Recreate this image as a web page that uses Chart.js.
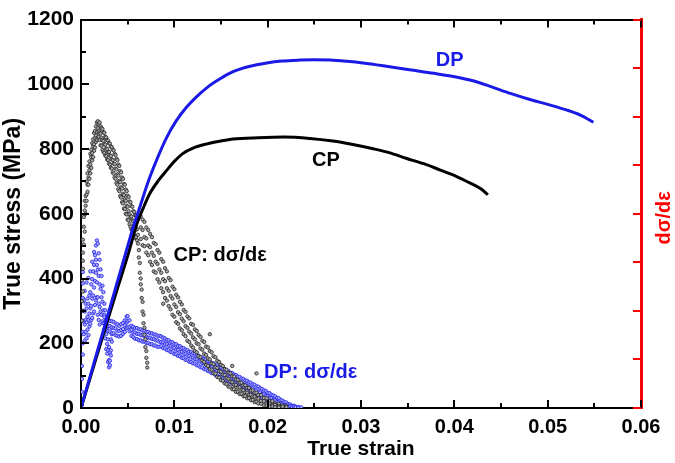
<!DOCTYPE html>
<html>
<head>
<meta charset="utf-8">
<script src="https://cdn.jsdelivr.net/npm/chart.js@4.4.0/dist/chart.umd.min.js"></script>
<style>
html,body{margin:0;padding:0;background:#fff;}
#wrap{width:675px;height:463px;}
</style>
</head>
<body>
<div id="wrap"><canvas id="c" width="675" height="463"></canvas></div>
<script>
// ---- data ----
const xTicks = [0, 0.01, 0.02, 0.03, 0.04, 0.05, 0.06];
const yTicks = [0, 200, 400, 600, 800, 1000, 1200];

// true stress-strain curves: [strain, stress MPa]
const dpCurve = [[0,0],[0.001,100],[0.002,200],[0.003,300],[0.004,400],[0.005,500],[0.0056,560],[0.006,594],[0.0068,665],[0.0074,715],[0.0083,780],[0.0092,837],[0.0102,887],[0.0113,929],[0.0124,962],[0.0135,990],[0.0149,1017],[0.0163,1039],[0.018,1055],[0.0199,1066],[0.0215,1072],[0.0235,1075],[0.025,1076],[0.0267,1075],[0.0285,1071],[0.0302,1066],[0.0327,1056],[0.0352,1045],[0.0378,1034],[0.0403,1022],[0.042,1011],[0.044,992],[0.046,972],[0.048,954],[0.05,938],[0.052,921],[0.0535,905],[0.0549,883]];

const cpCurve = [[0,0],[0.001,95],[0.002,190],[0.003,285],[0.004,378],[0.005,470],[0.0055,520],[0.006,570],[0.0067,620],[0.0074,664],[0.0083,703],[0.0092,735],[0.01,762],[0.0109,786],[0.012,803],[0.0135,816],[0.015,825],[0.0163,831],[0.019,835],[0.0217,837],[0.0245,833],[0.027,825],[0.029,815],[0.0313,801],[0.033,789],[0.0349,771],[0.0368,754],[0.0385,735],[0.0402,716],[0.0417,695],[0.0428,678],[0.0436,659]];

const cpRateRows = [[0.0001,270,330,395],[0.0002,300,360,430],[0.0002,480,455,520],[0.0003,505,560,590],[0.0004,545,610,640],[0.0005,600,655,625],[0.0006,660,700,640],[0.0007,690,725,668],
[0.0008,748,712,690],[0.0009,762,735,708],[0.001,785,752,725],[0.0011,798,775,742],[0.0012,818,788,765],[0.0013,830,808,775],[0.0014,850,815,795],[0.0015,856,835,805],[0.0016,870,842,822],[0.0017,882,852,828],[0.0018,886,865,835],[0.0019,876,855,838],
[0.002,882,850,828],[0.0021,870,848,812],[0.0022,865,835,810],[0.0023,862,828,798],[0.0024,852,825,792],[0.0025,850,815,788],[0.0026,838,814,780],[0.0027,836,802,778],[0.0028,828,800,768],[0.0029,826,790,766],[0.003,818,791,755],[0.0031,817,780,752],[0.0032,808,779,742],[0.0033,806,768,740],[0.0034,798,766,728],[0.0035,796,755,724],[0.0036,785,754,712],[0.0037,782,740,708],[0.0038,770,737,695],[0.0039,766,722,690],[0.004,752,718,676],[0.0041,748,702,670],[0.0042,732,698,655],[0.0043,728,682,650],[0.0044,712,678,636],[0.0045,708,662,632],[0.0046,692,658,616],[0.0047,690,645,615],[0.0048,675,640,600],[0.0049,670,625,598],[0.005,656,622,582],[0.0051,652,608,580],[0.0052,638,598,568],[0.0053,636,590,560],[0.0054,624,592,552],[0.0055,622,580,550],[0.0056,608,577,538],[0.0057,606,565,532],[0.0058,596,564,526],[0.0059,593,552,528],[0.006,582,552,518],
[0.0061,535,508],[0.0062,488,465],[0.0063,448,418],[0.0064,400,382],[0.0065,366,340],[0.0066,328,298],[0.0067,288,262],[0.0068,248,226],[0.0069,212,188],[0.007,176,155],[0.0071,140,125],
[0.0064,592,558,522],[0.0066,582,550,503],[0.0068,575,528,500],[0.007,558,524,480],[0.0072,550,502,472],[0.0074,538,497,452],[0.0076,528,480,442],[0.0078,510,470,422],[0.008,506,452,418],[0.0082,488,445,398],[0.0084,480,428,388],[0.0086,460,418,370],[0.0088,452,398,358,322],[0.009,432,392,340],[0.0092,422,370,332],[0.0094,402,362,315],[0.0096,395,346,305],[0.0098,375,338,288],[0.01,367,320,282],[0.0102,350,312,265],[0.0104,342,296,260],[0.0106,328,290,246],[0.0108,320,276,240],[0.011,303,268,228],[0.0112,297,253,222],[0.0114,283,248,208],[0.0116,277,236,204],[0.0118,260,230,193],[0.012,257,218,187],[0.0122,243,212,176],[0.0124,238,200,172],[0.0126,226,197,160],[0.0128,220,184,157],[0.013,208,180,146],[0.0132,204,168,142],[0.0134,190,164,133],[0.0136,187,153,130],[0.0138,228,176,150,120],[0.014,172,138,118],[0.0142,160,136,108],[0.0144,157,126,106],[0.0146,146,124,96],[0.0148,142,114,94],[0.015,133,112,86],[0.0152,130,103,84],[0.0154,120,102,76],[0.0156,118,92,74],[0.0158,108,90,66],[0.016,107,82,66],[0.0162,130,98,80,58],[0.0164,97,72,58],[0.0166,88,71,50],[0.0168,87,63,50],[0.017,78,64,43],[0.0172,78,56,44],[0.0174,70,55,36],[0.0176,70,48,37],[0.0178,62,47,30],[0.018,62,41,31],[0.0182,54,41,24],[0.0184,54,35,25],[0.0186,47,35,18],[0.0188,107,47,29,19],[0.019,40,29,14],[0.0193,40,22,13],[0.0196,31,21,8],[0.0199,30,14,8],[0.0202,22,14,4],[0.0205,21,9,5],[0.0208,14,9,2],[0.0212,13,5,2],[0.0216,8,4],[0.022,6,2]];

const dpRateRows = [[0.0001,10,50,90,130],[0.0002,165,200,235,270],[0.0002,300,340,385,420],
[0.0003,332,268,228],[0.0004,298,258,208,362],[0.0005,322,272,235],[0.0006,308,265,215,388],[0.0007,338,282,242],[0.0008,322,272,225,402],[0.0009,348,292,252],[0.001,358,308,260,422],[0.0011,382,315,272],[0.0012,398,338,278,452],[0.0013,422,348,292],[0.0014,442,372,298,482],[0.0015,472,392,318],[0.0016,502,418,332,458],[0.0017,518,442,342,388],[0.0018,508,428,342,288],[0.0019,478,408,322,272],[0.002,458,382,312,258],[0.0021,428,368,298],[0.0022,408,342,288],[0.0023,378,328,268],[0.0024,358,302,262],[0.0025,322,288],[0.0026,302,248,215],[0.0027,272,228,182],[0.0028,248,198,168],[0.0029,212,178,142],[0.003,188,148,126],[0.0031,172,146,132],[0.0032,212,178,162],[0.0033,248,228,205],
[0.0025,281,262,244],[0.0027,274,259,241],[0.0029,273,254,237],[0.0031,269,253,236],[0.0033,268,249,231],[0.0035,266,247,231],[0.0037,261,246,225],[0.0039,259,239,223],[0.0041,254,238,221],[0.0043,259,241,223],[0.0045,263,244,229],[0.0047,271,256,235],[0.0049,283,264,247],[0.005,284,269,249],[0.0052,271,251,237],[0.0054,254,241,223],[0.0056,251,234,219],[0.0058,247,233,214],[0.006,247,229,213],[0.0062,243,229,209],[0.0064,243,225,209],[0.0066,239,225,205],[0.0068,239,221,205],[0.007,235,221,201],[0.0072,235,217,201],[0.0074,231,217,197],[0.0076,231,213,197],[0.0078,227,213,193],[0.008,227,209,193],[0.0082,223,209,189],[0.0084,223,205,189],
[0.0086,221,204,191],[0.0088,217,203,185],[0.009,215,198,184],[0.0092,210,197,179],[0.0094,209,192,178],[0.0096,204,191,173],[0.0098,203,186,172],[0.01,198,185,167],[0.0102,197,180,166],[0.0104,192,179,161],[0.0106,191,174,160],[0.0108,186,173,155],[0.011,185,168,154],[0.0112,180,167,149],[0.0114,179,162,148],[0.0116,174,161,143],[0.0118,173,156,142],[0.012,169,156,138],[0.0122,168,151,137],[0.0124,163,150,132],[0.0126,162,145,131],[0.0128,157,144,126],[0.013,156,139,125],[0.0132,151,138,120],[0.0134,150,133,119],[0.0136,145,132,114],[0.0138,144,127,113],[0.014,139,126,108],[0.0142,138,121,107],[0.0144,133,120,102],[0.0146,132,115,101],[0.0148,127,114,96],[0.015,126,109,96],[0.0152,121,108,91],[0.0154,120,103,90],[0.0156,115,102,85],[0.0158,114,97,84],[0.016,109,96,79],[0.0162,108,91,78],[0.0164,103,90,73],[0.0166,102,85,72],[0.0168,97,84,67],[0.017,96,79,66],[0.0172,91,78,61],[0.0174,90,73,60],[0.0176,85,72,55],[0.0178,84,67,54],[0.018,79,66,49],[0.0182,78,61,48],[0.0184,73,60,43],[0.0186,72,55,42],[0.0188,67,54,37],[0.019,66,49,36],[0.0192,61,48,31],[0.0194,59,43,31],[0.0196,54,42,26],[0.0198,53,37,25],[0.02,47,36,23],[0.0202,46,31,18],[0.0204,41,30,18],[0.0206,39,25,13],[0.0208,36,24,13],[0.021,31,19,9],[0.0212,30,18,9],[0.0214,24,13,5],[0.0216,23,13,6],[0.0218,18,9,3],[0.022,17,9,4],[0.0222,12,5,2],[0.0224,11,6],[0.0226,7,3],[0.0228,7,4],[0.023,4,2],[0.0233,3,1],[0.0236,2]];

const labels = [
  {text: 'DP', x: 0.0395, y: 1075, color: '#1a1ae6'},
  {text: 'CP', x: 0.02625, y: 765, color: '#000'},
  {text: 'CP: d\u03c3/d\u03b5', x: 0.0149, y: 472, color: '#000'},
  {text: 'DP: d\u03c3/d\u03b5', x: 0.0246, y: 110, color: '#1a1ae6'}
];
// ---- end data ----

const toPts = a => a.map(p => ({x: p[0], y: p[1]}));
const rowsToPts = rows => { const out = []; rows.forEach(r => { for (let i = 1; i < r.length; i++) out.push({x: r[0], y: r[i]}); }); return out; };
const FONT = 'Arial, "Liberation Sans", sans-serif';

const decor = {
  id: 'decor',
  afterDraw(chart) {
    const ctx = chart.ctx, xs = chart.scales.x, ys = chart.scales.y, ca = chart.chartArea;
    ctx.save();
    ctx.lineWidth = 2;
    ctx.strokeStyle = '#000';
    for (let i = 0; i <= 12; i++) {
      const px = Math.round(xs.getPixelForValue(i * 0.005));
      const len = (i % 2 === 0) ? 8 : 5;
      ctx.beginPath();
      ctx.moveTo(px, ca.bottom); ctx.lineTo(px, ca.bottom - len);
      ctx.moveTo(px, ca.top); ctx.lineTo(px, ca.top + len);
      ctx.stroke();
    }
    for (let i = 0; i <= 12; i++) {
      const py = Math.round(ys.getPixelForValue(i * 100));
      const len = (i % 2 === 0) ? 8 : 5;
      ctx.beginPath();
      ctx.moveTo(ca.left, py); ctx.lineTo(ca.left + len, py);
      ctx.stroke();
    }
    const y2 = chart.scales.y2;
    ctx.strokeStyle = '#ff0000';
    for (let i = 0; i <= 8; i++) {
      const py = Math.round(y2.getPixelForValue(i));
      ctx.beginPath();
      ctx.moveTo(ca.right, py); ctx.lineTo(ca.right - 8, py);
      ctx.stroke();
    }
    ctx.font = 'bold 20px ' + FONT;
    ctx.textAlign = 'center';
    ctx.textBaseline = 'middle';
    labels.forEach(l => {
      ctx.fillStyle = l.color;
      ctx.fillText(l.text, xs.getPixelForValue(l.x), ys.getPixelForValue(l.y));
    });
    ctx.fillStyle = '#ff0000';
    ctx.translate(ca.right + 23, (ca.top + ca.bottom) / 2 + 4);
    ctx.rotate(-Math.PI / 2);
    ctx.fillText('d\u03c3/d\u03b5', 0, 0);
    ctx.restore();
  }
};

new Chart(document.getElementById('c'), {
  type: 'scatter',
  data: {
    datasets: [
      {label: 'DP', data: toPts(dpCurve), showLine: true, borderColor: '#1a1ae6', borderWidth: 3, pointRadius: 0, cubicInterpolationMode: 'monotone', order: 0},
      {label: 'CP', data: toPts(cpCurve), showLine: true, borderColor: '#000', borderWidth: 3, pointRadius: 0, cubicInterpolationMode: 'monotone', order: 0},
      {label: 'CP rate', data: rowsToPts(cpRateRows), pointRadius: 1.7, borderWidth: 0.8, borderColor: '#222', backgroundColor: '#aaa', order: 1},
      {label: 'DP rate', data: rowsToPts(dpRateRows), pointRadius: 1.7, borderWidth: 0.8, borderColor: '#2020e8', backgroundColor: '#a8a8ff', order: 1}
    ]
  },
  options: {
    responsive: false,
    animation: false,
    layout: {padding: 0},
    plugins: {legend: {display: false}, tooltip: {enabled: false}},
    scales: {
      x: {
        type: 'linear', position: 'bottom', min: 0, max: 0.06,
        afterBuildTicks: s => { s.ticks = xTicks.map(v => ({value: v})); },
        ticks: {padding: 7, color: '#000', font: {family: FONT, size: 20, weight: 'bold'}, callback: v => v.toFixed(2), maxRotation: 0},
        grid: {display: false, drawTicks: false},
        border: {display: true, color: '#000', width: 2},
        title: {display: true, text: 'True strain', color: '#000', font: {family: FONT, size: 21, weight: 'bold'}, padding: {top: 0, bottom: 1}},
        afterFit: s => { s.height = 55; }
      },
      x2: {
        type: 'linear', position: 'top', min: 0, max: 0.06,
        ticks: {display: false}, grid: {display: false, drawTicks: false},
        border: {display: true, color: '#000', width: 2},
        afterFit: s => { s.height = 14; }
      },
      y: {
        type: 'linear', position: 'left', min: 0, max: 1200,
        afterBuildTicks: s => { s.ticks = yTicks.map(v => ({value: v})); },
        ticks: {padding: 7, color: '#000', font: {family: FONT, size: 21, weight: 'bold'}, callback: v => String(v)},
        grid: {display: false, drawTicks: false},
        border: {display: true, color: '#000', width: 2},
        title: {display: true, text: 'True stress (MPa)', color: '#000', font: {family: FONT, size: 23, weight: 'bold'}, padding: {top: 0, bottom: 0}},
        afterFit: s => { s.width = 81; }
      },
      y2: {
        type: 'linear', position: 'right', min: 0, max: 8,
        ticks: {display: false}, grid: {display: false, drawTicks: false},
        border: {display: true, color: '#ff0000', width: 3},
        afterFit: s => { s.width = 34; }
      }
    }
  },
  plugins: [decor]
});
</script>
</body>
</html>
